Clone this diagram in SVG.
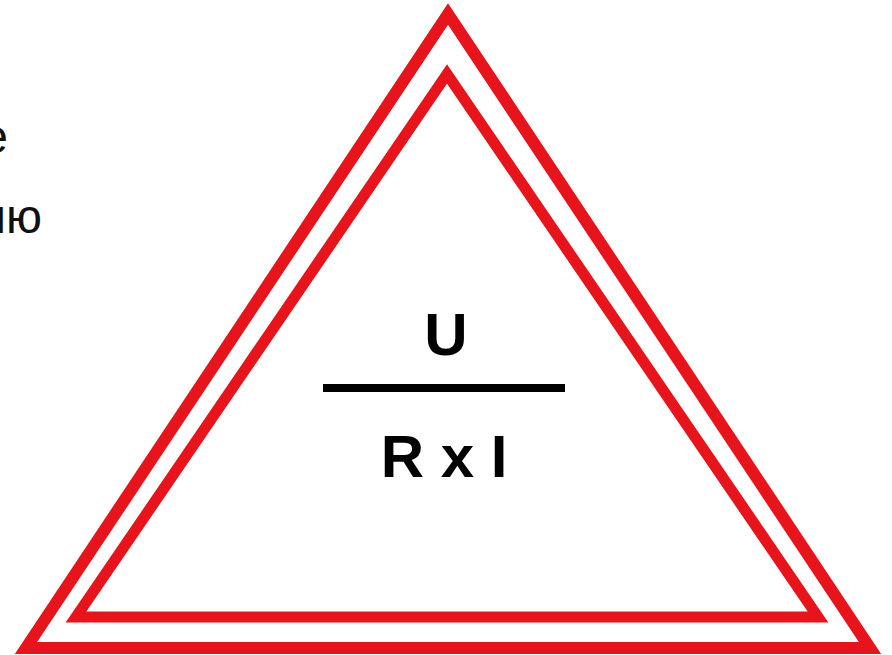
<svg xmlns="http://www.w3.org/2000/svg" width="892" height="655" viewBox="0 0 892 655">
  <style>
    .tri { fill: none; stroke: #E8141C; stroke-width: 12; stroke-linejoin: miter; stroke-miterlimit: 10; }
    .side { font-family: "Liberation Sans", Arial, sans-serif; font-size: 48px; fill: #111; }
    .formula { font-family: "Liberation Sans", Arial, sans-serif; font-weight: bold; font-size: 60px; fill: #000; text-anchor: middle; }
  </style>
  <rect width="892" height="655" fill="#fff"/>
  <g id="side-text">
    <text class="side" x="8" y="153" text-anchor="end">е</text>
    <text class="side" x="42" y="233" text-anchor="end">ню</text>
  </g>
  <g id="outer-triangle">
    <polygon class="tri" points="448,14 26,648 870,648"/>
  </g>
  <g id="inner-triangle">
    <polygon class="tri" points="447,74 76,617 818,617" style="stroke-width:11"/>
  </g>
  <g id="formula">
    <text class="formula" x="446" y="355">U</text>
    <rect x="323" y="384" width="242" height="8" fill="#000"/>
    <text class="formula" x="444" y="477">R x I</text>
  </g>
</svg>
